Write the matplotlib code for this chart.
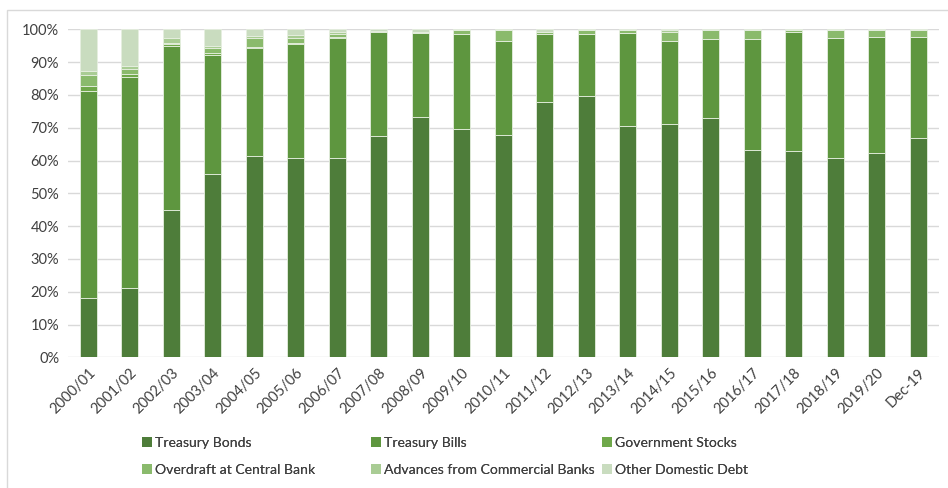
import matplotlib
matplotlib.use('Agg')
import matplotlib.pyplot as plt
import matplotlib.ticker as mticker
from matplotlib.patches import Rectangle, Patch
import numpy as np

plt.rcParams['font.family'] = ['Lato', 'DejaVu Sans']

# ── Composition of domestic debt, share of total (%) ──
periods = ['2000/01', '2001/02', '2002/03', '2003/04', '2004/05', '2005/06',
           '2006/07', '2007/08', '2008/09', '2009/10', '2010/11', '2011/12',
           '2012/13', '2013/14', '2014/15', '2015/16', '2016/17', '2017/18',
           '2018/19', '2019/20', 'Dec-19']

treasury_bonds = [18.0, 21.0, 45.0, 56.0, 61.5, 60.8, 60.9, 67.4, 73.2, 69.7, 67.9,
                  77.9, 79.8, 70.6, 71.2, 72.9, 63.3, 63.0, 60.9, 62.4, 67.0]
treasury_bills = [63.3, 64.5, 50.0, 36.2, 32.8, 34.6, 36.5, 31.9, 25.8, 28.9, 28.6,
                  20.7, 18.8, 28.4, 25.3, 24.1, 33.7, 36.3, 36.5, 35.3, 30.7]
govt_stocks    = [1.4, 0.9, 0.5, 0.5, 0.3, 0.5, 0.3, 0.0, 0.0, 0.0, 0.0,
                  0.0, 0.0, 0.0, 0.0, 0.0, 0.0, 0.0, 0.0, 0.0, 0.0]
overdraft      = [3.4, 1.5, 0.3, 1.5, 2.6, 1.4, 0.9, 0.0, 0.0, 1.2, 3.2,
                  0.6, 1.2, 0.8, 2.8, 2.8, 2.8, 0.4, 2.4, 2.1, 2.1]
advances       = [1.2, 0.9, 1.4, 0.7, 0.8, 0.9, 0.5, 0.3, 0.3, 0.0, 0.0,
                  0.0, 0.0, 0.0, 0.5, 0.0, 0.0, 0.1, 0.0, 0.0, 0.0]
other_debt     = [12.7, 11.2, 2.8, 5.1, 2.0, 1.8, 0.9, 0.4, 0.7, 0.2, 0.3,
                  0.8, 0.2, 0.2, 0.2, 0.2, 0.2, 0.2, 0.2, 0.2, 0.2]

series_names = ['Treasury Bonds', 'Treasury Bills', 'Government Stocks',
                'Overdraft at Central Bank', 'Advances from Commercial Banks',
                'Other Domestic Debt']
series_vals = [treasury_bonds, treasury_bills, govt_stocks,
               overdraft, advances, other_debt]
series_colors = ['#4e7d3a', '#5e963f', '#6fa84a', '#8aba6c', '#a9cc94', '#c9dcbf']

TEXT_COLOR = '#404040'
GRID_COLOR = '#d9d9d9'
FONT_SIZE = 10.5

fig = plt.figure(figsize=(9.48, 4.88), dpi=100, facecolor='white')
ax = fig.add_axes([67.5 / 948, 1 - 357.3 / 488, (939 - 67.5) / 948, 328 / 488])

# chart frame (left/top visible)
fig.patches.append(Rectangle((7 / 948, -0.05), 1.2, (488 - 10) / 488 + 0.05,
                             transform=fig.transFigure, fill=False,
                             edgecolor='#d9d9d9', linewidth=1.0))

x = np.arange(len(periods))
bottom = np.zeros(len(periods))
for name, vals, col in zip(series_names, series_vals, series_colors):
    vals = np.array(vals, dtype=float)
    ax.bar(x, vals, width=0.4, bottom=bottom, color=col, label=name,
           edgecolor='#e6efe0', linewidth=0.6, zorder=3)
    bottom += vals

ax.set_xlim(-0.5, len(periods) - 0.5)
ax.set_ylim(0, 100)
ax.yaxis.set_major_locator(mticker.MultipleLocator(10))
ax.yaxis.set_major_formatter(mticker.FuncFormatter(lambda v, _: f'{v:.0f}%'))
ax.yaxis.grid(True, color=GRID_COLOR, linewidth=1.0, zorder=0)
ax.set_axisbelow(True)
for s in ax.spines.values():
    s.set_visible(False)
ax.tick_params(axis='both', length=0, colors=TEXT_COLOR, labelsize=FONT_SIZE)
ax.tick_params(axis='y', pad=6)
ax.set_xticks(x)
ax.set_xticklabels(periods, rotation=45, ha='right', rotation_mode='anchor')
ax.tick_params(axis='x', pad=6)

# three-column legend with fixed column positions
handles = [Patch(facecolor=c, edgecolor='none') for c in series_colors]
col_x = [142, 371, 602]
for i, cx in enumerate(col_x):
    leg = fig.legend([handles[i], handles[i + 3]],
                     [series_names[i], series_names[i + 3]],
                     loc='upper left', bbox_to_anchor=(cx / 948, 1 - 437 / 488),
                     frameon=False, fontsize=10.1, handlelength=0.7,
                     handleheight=0.7, handletextpad=0.2, labelspacing=1.08,
                     borderpad=0, borderaxespad=0, labelcolor=TEXT_COLOR)
    fig.add_artist(leg)

fig.savefig('out.png', dpi=100, facecolor='white')
